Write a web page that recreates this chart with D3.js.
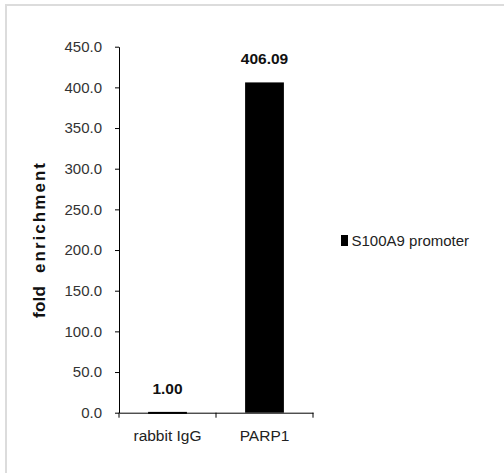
<!DOCTYPE html>
<html>
<head>
<meta charset="utf-8">
<script src="https://cdn.jsdelivr.net/npm/d3@7"></script>
<style>
  body { margin: 0; background: #fff; }
  svg { display: block; font-family: "Liberation Sans", Arial, sans-serif; }
</style>
</head>
<body>
<div id="root"></div>
<script>
// chart data
const categories = ["rabbit IgG", "PARP1"];
const values = [1.00, 406.09];
const valueLabels = ["1.00", "406.09"];
const seriesName = "S100A9 promoter";
const yTicks = [0, 50, 100, 150, 200, 250, 300, 350, 400, 450];

const width = 504, height = 473;
const plot = { left: 119, right: 313, top: 46.7, bottom: 412.7 };

const svg = d3.select("#root")
  .append("svg")
  .attr("width", width)
  .attr("height", height)
  .attr("viewBox", [0, 0, width, height]);

// light gray frame lines on top and left
svg.append("rect").attr("x", 5).attr("y", 4).attr("width", width - 5).attr("height", 2).attr("fill", "#dcdcdc");
svg.append("rect").attr("x", 5).attr("y", 4).attr("width", 2).attr("height", height - 4).attr("fill", "#dcdcdc");

const xScale = d3.scaleBand()
  .domain(categories)
  .range([plot.left, plot.right])
  .paddingInner(0.6)
  .paddingOuter(0.3);

const yScale = d3.scaleLinear()
  .domain([0, 450])
  .range([plot.bottom, plot.top]);

// y axis
const yAxis = svg.append("g")
  .attr("transform", `translate(${plot.left},0)`)
  .call(d3.axisLeft(yScale).tickValues(yTicks).tickFormat(d3.format(".1f")).tickSize(4).tickSizeOuter(0).tickPadding(13));
yAxis.select(".domain").attr("stroke", "#000");
yAxis.selectAll(".tick line").attr("stroke", "#000");
yAxis.selectAll("text").attr("font-size", 15).attr("fill", "#333").attr("font-family", "Liberation Sans, Arial, sans-serif");

// bars
svg.append("g")
  .selectAll("rect")
  .data(categories)
  .join("rect")
  .attr("x", (d) => xScale(d))
  .attr("y", (d, i) => yScale(values[i]))
  .attr("width", xScale.bandwidth())
  .attr("height", (d, i) => Math.max(2, yScale(0) - yScale(values[i])))
  .attr("fill", "#000");

// x axis with labels, ticks at band boundaries
const xAxis = svg.append("g")
  .attr("transform", `translate(0,${plot.bottom})`)
  .call(d3.axisBottom(xScale).tickSize(0).tickSizeOuter(0).tickPadding(17));
xAxis.select(".domain").attr("stroke", "#000");
xAxis.selectAll("text").attr("font-size", 15.5).attr("fill", "#222").attr("font-family", "Liberation Sans, Arial, sans-serif");

const step = xScale.step();
const boundaries = d3.range(categories.length + 1).map((i) => plot.left + i * step);
svg.append("g")
  .selectAll("line")
  .data(boundaries)
  .join("line")
  .attr("x1", (d) => d).attr("x2", (d) => d)
  .attr("y1", plot.bottom).attr("y2", plot.bottom + 5)
  .attr("stroke", "#000");

// value labels above bars
svg.append("g")
  .selectAll("text")
  .data(categories)
  .join("text")
  .attr("x", (d) => xScale(d) + xScale.bandwidth() / 2)
  .attr("y", (d, i) => yScale(values[i]) - 18)
  .attr("text-anchor", "middle")
  .attr("font-size", 15.5)
  .attr("font-weight", "bold")
  .attr("fill", "#111")
  .text((d, i) => valueLabels[i]);

// y axis title, two words with a wide gap
svg.append("text")
  .attr("transform", "translate(45,318) rotate(-90)")
  .attr("text-anchor", "start")
  .attr("font-size", 17)
  .attr("font-weight", "bold")
  .attr("textLength", 32)
  .attr("lengthAdjust", "spacing")
  .attr("fill", "#111")
  .text("fold");
svg.append("text")
  .attr("transform", "translate(45,163) rotate(-90)")
  .attr("text-anchor", "end")
  .attr("font-size", 17)
  .attr("font-weight", "bold")
  .attr("textLength", 110)
  .attr("lengthAdjust", "spacing")
  .attr("fill", "#111")
  .text("enrichment");

// legend
const legend = svg.append("g").attr("transform", "translate(341,235)");
legend.append("rect").attr("width", 7).attr("height", 11).attr("fill", "#000");
legend.append("text")
  .attr("x", 10.5)
  .attr("y", 11)
  .attr("font-size", 15)
  .attr("fill", "#222")
  .text(seriesName);
</script>
</body>
</html>
